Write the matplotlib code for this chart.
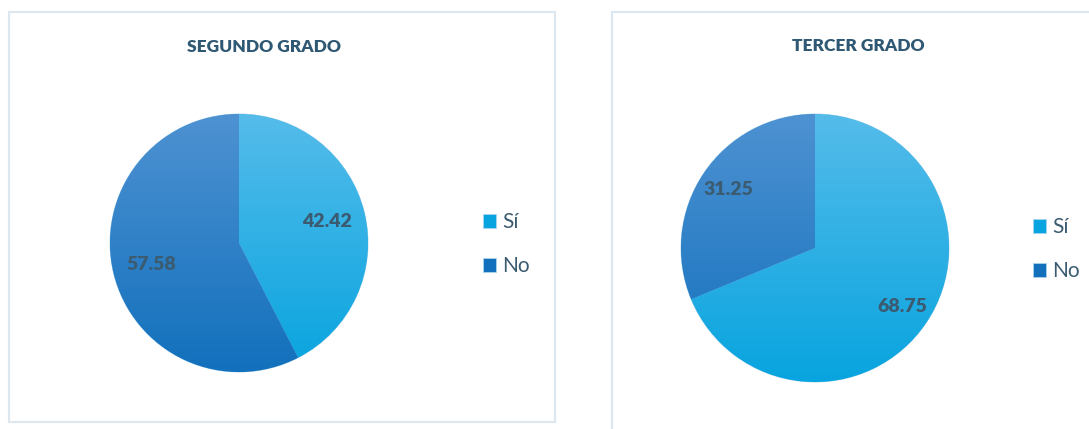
import numpy as np
import matplotlib
matplotlib.use("Agg")
import matplotlib.pyplot as plt
from matplotlib.patches import Rectangle
from matplotlib.colors import LinearSegmentedColormap

# ── Data ───────────────────────────────────────────────────────────────────────
labels = ["Sí", "No"]
segundo = [42.42, 57.58]
tercer = [68.75, 31.25]
titles = ["SEGUNDO GRADO", "TERCER GRADO"]

# gradient colours (top -> bottom) for each slice
si_grad = ("#55BCEA", "#08A4DF")
no_grad = ("#4E92D2", "#1270BC")
text_col = "#3B5B71"
title_col = "#2E5873"
border_col = "#DCE7EF"

plt.rcParams["font.family"] = ["Lato", "DejaVu Sans"]

W, H = 1089, 429
fig = plt.figure(figsize=(W / 100, H / 100), dpi=100)
fig.patch.set_facecolor("white")


def px_box(x0, y0, w, h):
    # pixel box (from top-left) -> figure fraction [l, b, w, h]
    return [x0 / W, (H - y0 - h) / H, w / W, h / H]


# ── Panel frames ───────────────────────────────────────────────────────────────
for (x0, y0, x1, y1) in [(9, 12, 555, 422), (612, 12, 1100, 440)]:
    fig.patches.append(Rectangle((x0 / W, (H - y1) / H), (x1 - x0) / W, (y1 - y0) / H,
                                 transform=fig.transFigure, fill=False,
                                 edgecolor=border_col, linewidth=1.5))


def draw_pie(box, values, title, title_xy, legend_xy, pct_dist):
    ax = fig.add_axes(px_box(*box))
    wedges, _, autotexts = ax.pie(values, startangle=90, counterclock=False,
                                  colors=[si_grad[1], no_grad[1]],
                                  autopct="%.2f", pctdistance=pct_dist,
                                  wedgeprops=dict(edgecolor="#A9D4EE", linewidth=0.6),
                                  textprops=dict(color=text_col, fontsize=14,
                                                 fontweight="heavy"))
    # vertical gradient fill clipped to each wedge
    grad = np.linspace(0, 1, 256).reshape(-1, 1)
    for w, (c_top, c_bot) in zip(wedges, [si_grad, no_grad]):
        cmap = LinearSegmentedColormap.from_list("g", [c_top, c_bot])
        im = ax.imshow(grad, cmap=cmap, extent=[-1, 1, -1, 1], aspect="auto",
                       origin="upper", zorder=w.get_zorder() + 0.1)
        im.set_clip_path(w)
    for t in autotexts:
        t.set_zorder(5)
    ax.set_xlim(-1.0, 1.0)
    ax.set_ylim(-1.0, 1.0)
    ax.set_aspect("equal")
    ax.axis("off")

    fig.text(title_xy[0] / W, 1 - title_xy[1] / H, title, ha="center", va="center",
             color=title_col, fontsize=12.5, fontweight="heavy")

    leg = ax.legend(wedges, labels, loc="center left",
                    bbox_to_anchor=(legend_xy[0] / W, 1 - legend_xy[1] / H),
                    bbox_transform=fig.transFigure, frameon=False,
                    fontsize=15, handlelength=0.65, handleheight=0.65,
                    handletextpad=0.3, labelspacing=1.15)
    for t in leg.get_texts():
        t.set_color(text_col)
    return ax


draw_pie((110, 114, 258, 258), segundo, titles[0], (264, 47), (464, 244), 0.70)
draw_pie((681, 114, 268, 268), tercer, titles[1], (858, 46), (1014, 249), 0.78)

plt.savefig("out.png", dpi=100)
